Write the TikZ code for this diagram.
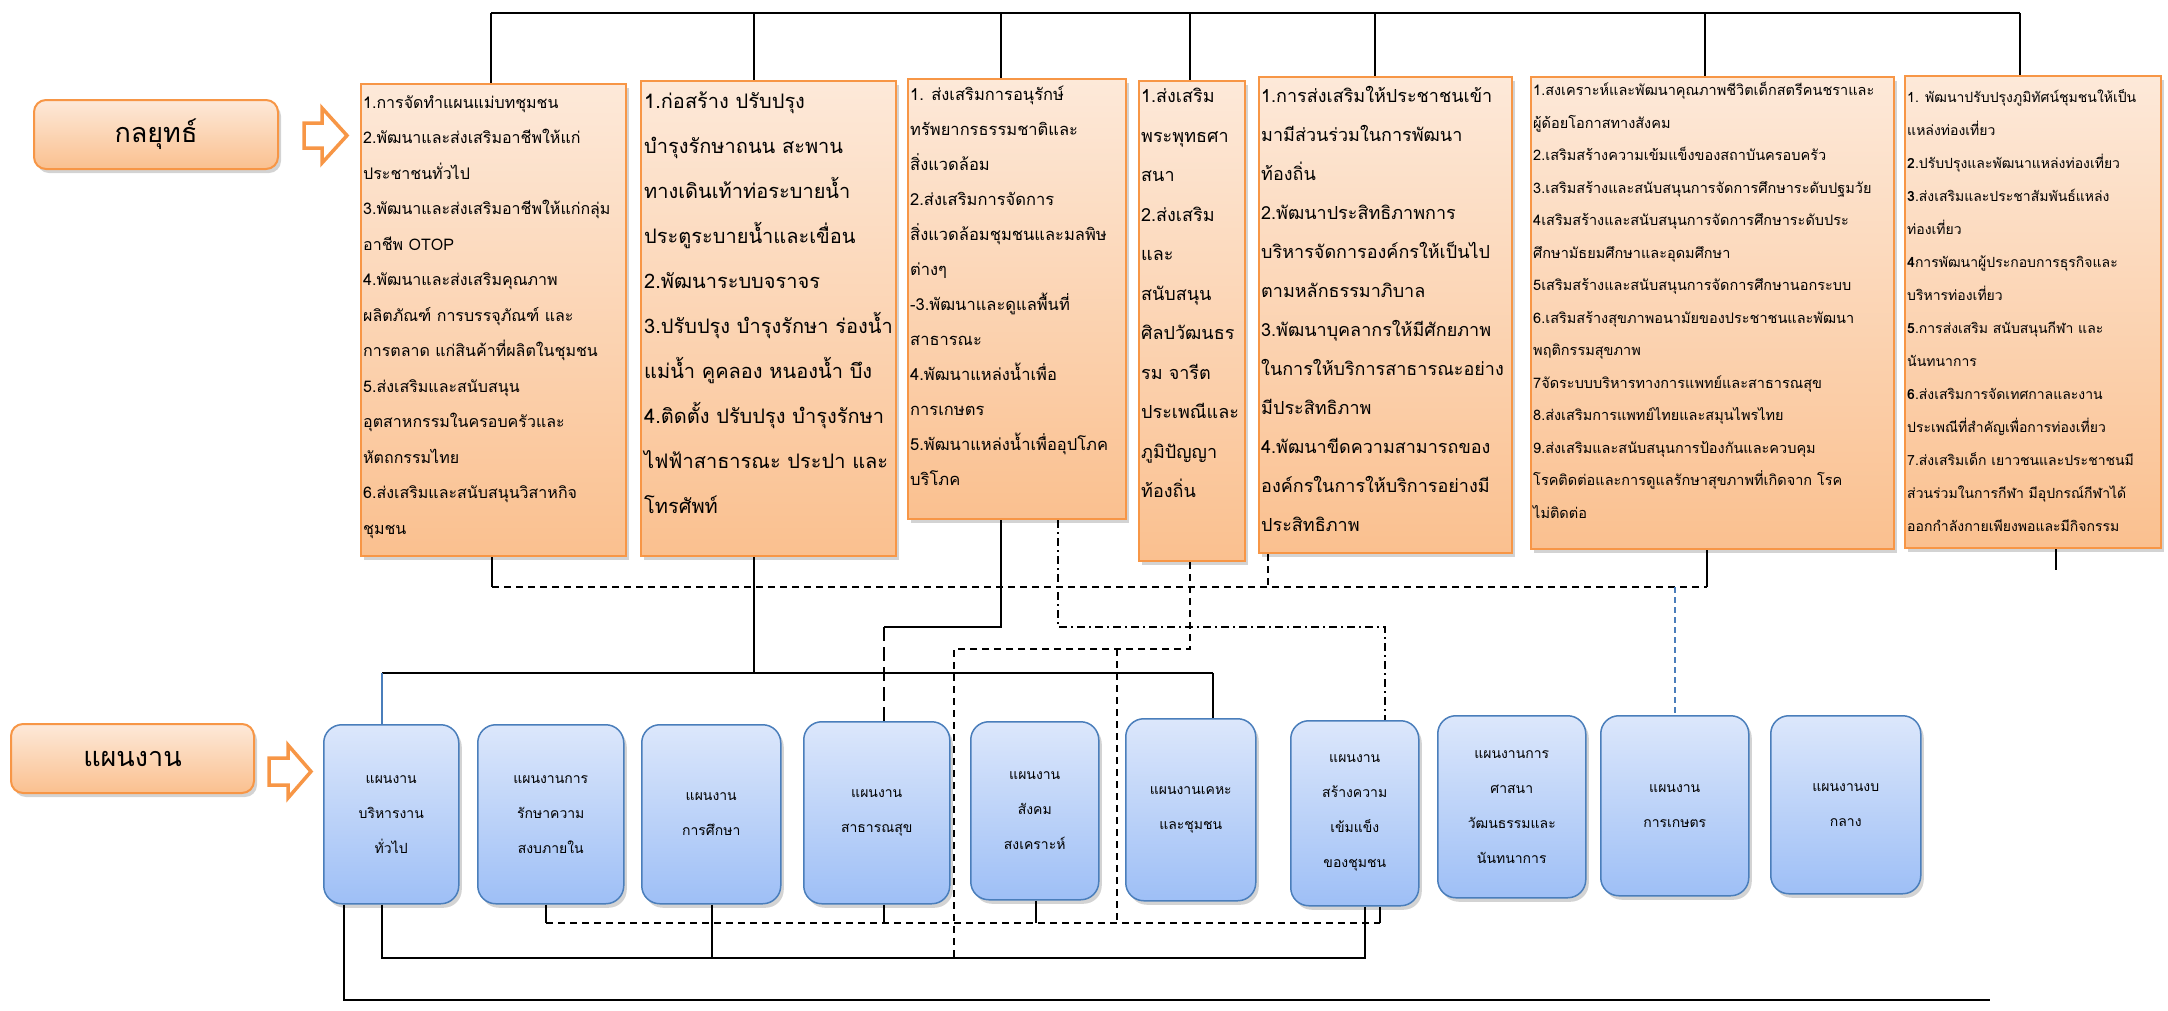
\documentclass[tikz,border=0pt]{standalone}
\usepackage{fontspec}
\setmainfont[Script=Thai]{Loma}
\usetikzlibrary{shadows,calc}
\definecolor{orTop}{HTML}{FDE9D9}
\definecolor{orBot}{HTML}{FAC08F}
\definecolor{orLine}{HTML}{F79646}
\definecolor{blTop}{HTML}{DCE7FB}
\definecolor{blBot}{HTML}{9EBFF6}
\definecolor{blLine}{HTML}{4A7EBB}
\begin{document}
\begin{tikzpicture}[x=1pt,y=-1pt,
  sbox/.style={draw=orLine, line width=2pt, top color=orTop, bottom color=orBot,
    drop shadow={opacity=0.35, shadow xshift=3pt, shadow yshift=-4pt},
    anchor=north west, inner sep=0pt},
  stext/.style={anchor=north west, align=left, inner sep=0pt},
  pbox/.style={draw=blLine, line width=1.5pt, rounded corners=18pt, top color=blTop, bottom color=blBot,
    drop shadow={opacity=0.35, shadow xshift=3pt, shadow yshift=-4pt},
    anchor=north west, inner sep=0pt, align=center, font=\fontsize{14}{35}\selectfont},
  lbox/.style={draw=orLine, line width=2pt, rounded corners=12pt, top color=orTop, bottom color=orBot,
    drop shadow={opacity=0.35, shadow xshift=3pt, shadow yshift=-4pt},
    anchor=north west, inner sep=0pt, font=\fontsize{27}{30}\selectfont},
  bus/.style={line width=2pt, black},
  dline/.style={line width=2pt, black, dash pattern=on 7pt off 5pt},
  ldline/.style={line width=2pt, black, dash pattern=on 14pt off 6pt},
  ddline/.style={line width=2pt, black, dash pattern=on 8pt off 4pt on 2pt off 4pt},
  bluel/.style={line width=1.5pt, blLine},
  bluedash/.style={line width=1.5pt, blLine, dash pattern=on 6pt off 4pt},
  barrow/.style={line width=3.5pt, draw=orLine, fill=white, line join=miter}
]
\useasboundingbox (0,0) rectangle (2168,1010);

% ---------- labels ----------
\node[lbox, minimum width=244pt, minimum height=69pt] (lk) at (33,99) {กลยุทธ์};
\node[lbox, minimum width=243pt, minimum height=69pt] (lp) at (10,723) {แผนงาน};
\draw[barrow] (304,123) -- (322,123) -- (322,108) -- (347,135.5) -- (322,163) -- (322,148) -- (304,148) -- cycle;
\draw[barrow] (269,758) -- (288,758) -- (288,745) -- (311,771.5) -- (288,798) -- (288,785) -- (269,785) -- cycle;

% ---------- strategy boxes ----------
\node[sbox, minimum width=265pt, minimum height=472pt] (s1) at (360,83) {};
\node[sbox, minimum width=255pt, minimum height=475pt] (s2) at (640,80) {};
\node[sbox, minimum width=218pt, minimum height=440pt] (s3) at (907,78) {};
\node[sbox, minimum width=106pt, minimum height=480pt] (s4) at (1138,80) {};
\node[sbox, minimum width=253pt, minimum height=476pt] (s5) at (1258,76) {};
\node[sbox, minimum width=363pt, minimum height=472pt] (s6) at (1530,76) {};
\node[sbox, minimum width=256pt, minimum height=472pt] (s7) at (1904,75) {};

\node[stext, font=\fontsize{16}{35.5}\selectfont] (t1) at ($(s1.north west)+(3,12)$) {%
1.การจัดทำแผนแม่บทชุมชน\\
2.พัฒนาและส่งเสริมอาชีพให้แก่\\
ประชาชนทั่วไป\\
3.พัฒนาและส่งเสริมอาชีพให้แก่กลุ่ม\\
อาชีพ OTOP\\
4.พัฒนาและส่งเสริมคุณภาพ\\
ผลิตภัณฑ์ การบรรจุภัณฑ์ และ\\
การตลาด แก่สินค้าที่ผลิตในชุมชน\\
5.ส่งเสริมและสนับสนุน\\
อุตสาหกรรมในครอบครัวและ\\
หัตถกรรมไทย\\
6.ส่งเสริมและสนับสนุนวิสาหกิจ\\
ชุมชน};

\node[stext, font=\fontsize{20}{45}\selectfont] (t2) at ($(s2.north west)+(4,12)$) {%
1.ก่อสร้าง ปรับปรุง\\
บำรุงรักษาถนน สะพาน\\
ทางเดินเท้าท่อระบายน้ำ\\
ประตูระบายน้ำและเขื่อน\\
2.พัฒนาระบบจราจร\\
3.ปรับปรุง บำรุงรักษา ร่องน้ำ\\
แม่น้ำ คูคลอง หนองน้ำ บึง\\
4.ติดตั้ง ปรับปรุง บำรุงรักษา\\
ไฟฟ้าสาธารณะ ประปา และ\\
โทรศัพท์};

\node[stext, font=\fontsize{16.5}{35}\selectfont] (t3) at ($(s3.north west)+(3,8)$) {%
1. ส่งเสริมการอนุรักษ์\\
ทรัพยากรธรรมชาติและ\\
สิ่งแวดล้อม\\
2.ส่งเสริมการจัดการ\\
สิ่งแวดล้อมชุมชนและมลพิษ\\
ต่างๆ\\
-3.พัฒนาและดูแลพื้นที่\\
สาธารณะ\\
4.พัฒนาแหล่งน้ำเพื่อ\\
การเกษตร\\
5.พัฒนาแหล่งน้ำเพื่ออุปโภค\\
บริโภค};

\node[stext, font=\fontsize{18}{39.5}\selectfont] (t4) at ($(s4.north west)+(3,8)$) {%
1.ส่งเสริม\\
พระพุทธศา\\
สนา\\
2.ส่งเสริม\\
และ\\
สนับสนุน\\
ศิลปวัฒนธร\\
รม จารีต\\
ประเพณีและ\\
ภูมิปัญญา\\
ท้องถิ่น};

\node[stext, font=\fontsize{18}{39}\selectfont] (t5) at ($(s5.north west)+(3,10)$) {%
1.การส่งเสริมให้ประชาชนเข้า\\
มามีส่วนร่วมในการพัฒนา\\
ท้องถิ่น\\
2.พัฒนาประสิทธิภาพการ\\
บริหารจัดการองค์กรให้เป็นไป\\
ตามหลักธรรมาภิบาล\\
3.พัฒนาบุคลากรให้มีศักยภาพ\\
ในการให้บริการสาธารณะอย่าง\\
มีประสิทธิภาพ\\
4.พัฒนาขีดความสามารถของ\\
องค์กรในการให้บริการอย่างมี\\
ประสิทธิภาพ};

\node[stext, font=\fontsize{14.5}{32.5}\selectfont] (t6) at ($(s6.north west)+(3,6)$) {%
1.สงเคราะห์และพัฒนาคุณภาพชีวิตเด็กสตรีคนชราและ\\
ผู้ด้อยโอกาสทางสังคม\\
2.เสริมสร้างความเข้มแข็งของสถาบันครอบครัว\\
3.เสริมสร้างและสนับสนุนการจัดการศึกษาระดับปฐมวัย\\
4เสริมสร้างและสนับสนุนการจัดการศึกษาระดับประ\\
ศึกษามัธยมศึกษาและอุดมศึกษา\\
5เสริมสร้างและสนับสนุนการจัดการศึกษานอกระบบ\\
6.เสริมสร้างสุขภาพอนามัยของประชาชนและพัฒนา\\
พฤติกรรมสุขภาพ\\
7จัดระบบบริหารทางการแพทย์และสาธารณสุข\\
8.ส่งเสริมการแพทย์ไทยและสมุนไพรไทย\\
9.ส่งเสริมและสนับสนุนการป้องกันและควบคุม\\
โรคติดต่อและการดูแลรักษาสุขภาพที่เกิดจาก โรค\\
ไม่ติดต่อ};

\node[stext, font=\fontsize{14}{33}\selectfont] (t7) at ($(s7.north west)+(3,14)$) {%
1. พัฒนาปรับปรุงภูมิทัศน์ชุมชนให้เป็น\\
แหล่งท่องเที่ยว\\
\textbf{2}.ปรับปรุงและพัฒนาแหล่งท่องเที่ยว\\
\textbf{3}.ส่งเสริมและประชาสัมพันธ์แหล่ง\\
ท่องเที่ยว\\
\textbf{4}การพัฒนาผู้ประกอบการธุรกิจและ\\
บริหารท่องเที่ยว\\
\textbf{5}.การส่งเสริม สนับสนุนกีฬา และ\\
นันทนาการ\\
\textbf{6}.ส่งเสริมการจัดเทศกาลและงาน\\
ประเพณีที่สำคัญเพื่อการท่องเที่ยว\\
7.ส่งเสริมเด็ก เยาวชนและประชาชนมี\\
ส่วนร่วมในการกีฬา มีอุปกรณ์กีฬาได้\\
ออกกำลังกายเพียงพอและมีกิจกรรม};

% ---------- plan boxes ----------
\node[pbox, minimum width=135pt, minimum height=179pt] (p1) at (323,724) {แผนงาน\\บริหารงาน\\ทั่วไป};
\node[pbox, minimum width=146pt, minimum height=179pt] (p2) at (477,724) {แผนงานการ\\รักษาความ\\สงบภายใน};
\node[pbox, minimum width=139pt, minimum height=179pt] (p3) at (641,724) {แผนงาน\\การศึกษา};
\node[pbox, minimum width=146pt, minimum height=182pt] (p4) at (803,721) {แผนงาน\\สาธารณสุข};
\node[pbox, minimum width=128pt, minimum height=178pt] (p5) at (970,721) {แผนงาน\\สังคม\\สงเคราะห์};
\node[pbox, minimum width=130pt, minimum height=182pt] (p6) at (1125,718) {แผนงานเคหะ\\และชุมชน};
\node[pbox, minimum width=128pt, minimum height=185pt] (p7) at (1290,720) {แผนงาน\\สร้างความ\\เข้มแข็ง\\ของชุมชน};
\node[pbox, minimum width=148pt, minimum height=182pt] (p8) at (1437,715) {แผนงานการ\\ศาสนา\\วัฒนธรรมและ\\นันทนาการ};
\node[pbox, minimum width=148pt, minimum height=180pt] (p9) at (1600,715) {แผนงาน\\การเกษตร};
\node[pbox, minimum width=150pt, minimum height=178pt] (p10) at (1770,715) {แผนงานงบ\\กลาง};

% ---------- top bus ----------
\coordinate (ta) at (491,13);
\coordinate (tb) at (754,13);
\coordinate (tc) at (1001,13);
\coordinate (td) at (1190,13);
\coordinate (te) at (1375,13);
\coordinate (tf) at (1705,13);
\coordinate (tg) at (2020,13);
\draw[bus] (ta) -- (tg);
\foreach \c/\s in {ta/s1,tb/s2,tc/s3,td/s4,te/s5,tf/s6,tg/s7}
  \draw[bus] (\c) -- (\c |- \s.north);

% ---------- middle connectors ----------
\coordinate (m1) at (492,587);
\coordinate (m5) at (1268,587);
\coordinate (m6) at (1707,587);
\coordinate (m7) at (2056,570);
\coordinate (m9) at (1675,587);
\draw[bus] (m1 |- s1.south) -- (m1);
\draw[dline] (m1) -- (m6);
\draw[dline] (m5 |- s5.south) -- (m5);
\draw[bus] (m6 |- s6.south) -- (m6);
\draw[bus] (m7 |- s7.south) -- (m7);
\draw[bluedash] (m9) -- (m9 |- p9.north);

\coordinate (a2) at (754,673);
\coordinate (a1) at (382,673);
\coordinate (a6) at (1213,673);
\draw[bus] (a2 |- s2.south) -- (a2);
\draw[bus] (a1) -- (a6);
\draw[bluel] (a1) -- (a1 |- p1.north);
\draw[bus] (a6) -- (a6 |- p6.north);

\coordinate (b3) at (1001,627);
\coordinate (b4) at (884,627);
\draw[bus] (b3 |- s3.south) -- (b3) -- (b4);
\draw[ldline] (b4) -- (b4 |- p4.north);

\coordinate (c3) at (1058,627);
\coordinate (c7) at (1385,627);
\draw[ddline] (c3 |- s3.south) -- (c3) -- (c7) -- (c7 |- p7.north);

\coordinate (d4) at (1190,649);
\coordinate (d3) at (954,649);
\coordinate (d5) at (1117,649);
\coordinate (d3b) at (954,958);
\coordinate (d5b) at (1117,923);
\draw[dline] (d4 |- s4.south) -- (d4) -- (d3) -- (d3b);
\draw[dline] (d5) -- (d5b);

% ---------- bottom connectors ----------
\coordinate (e1) at (344,1000);
\coordinate (e9) at (1990,1000);
\draw[bus] (e1 |- p1.south) -- (e1) -- (e9);

\coordinate (f1) at (382,958);
\coordinate (f3) at (712,958);
\coordinate (f7) at (1365,958);
\draw[bus] (f1 |- p1.south) -- (f1) -- (f7) -- (f7 |- p7.south);
\draw[bus] (f3 |- p3.south) -- (f3);

\coordinate (g2) at (546,923);
\coordinate (g4) at (884,923);
\coordinate (g5) at (1036,923);
\coordinate (g7) at (1380,923);
\draw[bus] (g2 |- p2.south) -- (g2);
\draw[dline] (g2) -- (g7);
\draw[bus] (g4 |- p4.south) -- (g4);
\draw[bus] (g5 |- p5.south) -- (g5);
\draw[bus] (g7) -- (g7 |- p7.south);
\end{tikzpicture}
\end{document}
